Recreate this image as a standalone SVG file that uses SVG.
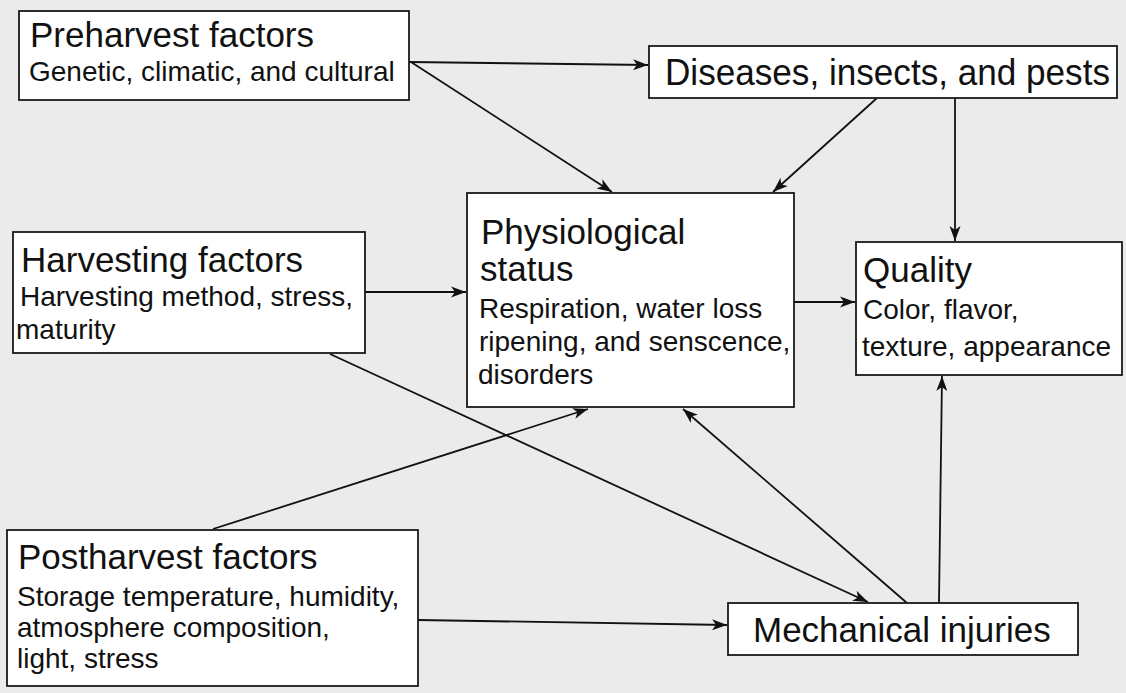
<svg xmlns="http://www.w3.org/2000/svg" width="1126" height="693" viewBox="0 0 1126 693">
  <defs>
    <marker id="arrow" markerWidth="16" markerHeight="12" refX="15" refY="6" orient="auto" markerUnits="userSpaceOnUse">
      <path d="M0,0.5 L15,6 L0,11.5 L4,6 z" fill="#111"/>
    </marker>
    <style>
      .box { fill: #ffffff; stroke: #1a1a1a; stroke-width: 1.8; }
      .title { font-family: "Liberation Sans", Arial, sans-serif; font-size: 35px; fill: #111; }
      .sub { font-family: "Liberation Sans", Arial, sans-serif; font-size: 28px; fill: #111; }
      .edge { fill: none; stroke: #111; stroke-width: 1.8; marker-end: url(#arrow); }
      .line { fill: none; stroke: #111; stroke-width: 1.8; }
    </style>
  </defs>
  <rect x="0" y="0" width="1126" height="693" fill="#ebebeb"/>

  <g id="connectors">
    <line class="edge" x1="409" y1="62" x2="648" y2="65"/>
    <line class="edge" x1="411" y1="62" x2="612" y2="192"/>
    <line class="edge" x1="877" y1="98" x2="773" y2="192"/>
    <line class="edge" x1="955" y1="98" x2="955" y2="241"/>
    <line class="edge" x1="365" y1="292" x2="466" y2="292"/>
    <line class="edge" x1="794" y1="302" x2="855" y2="302"/>
    <line class="edge" x1="213" y1="529" x2="588" y2="409"/>
    <line class="edge" x1="330" y1="354" x2="868" y2="602"/>
    <line class="edge" x1="907" y1="603" x2="683" y2="409"/>
    <line class="edge" x1="418" y1="620" x2="727" y2="625"/>
    <line class="edge" x1="939" y1="603" x2="942" y2="376"/>
  </g>

  <g id="preharvest">
    <rect class="box" x="19" y="11" width="390" height="89"/>
    <text class="title" x="30" y="47">Preharvest factors</text>
    <text class="sub" x="29" y="81">Genetic, climatic, and cultural</text>
  </g>

  <g id="diseases">
    <rect class="box" x="649" y="46" width="468" height="52"/>
    <text class="title" x="665" y="85" style="font-size:36px" textLength="445" lengthAdjust="spacingAndGlyphs">Diseases, insects, and pests</text>
  </g>

  <g id="harvesting">
    <rect class="box" x="13" y="232" width="352" height="121"/>
    <text class="title" x="21" y="272">Harvesting factors</text>
    <text class="sub" x="20" y="306">Harvesting method, stress,</text>
    <text class="sub" x="16" y="339">maturity</text>
  </g>

  <g id="physiological">
    <rect class="box" x="467" y="193" width="327" height="214"/>
    <text class="title" x="481" y="244">Physiological</text>
    <text class="title" x="480" y="281">status</text>
    <text class="sub" x="479" y="318">Respiration, water loss</text>
    <text class="sub" x="479" y="351">ripening, and senscence,</text>
    <text class="sub" x="478" y="384">disorders</text>
  </g>

  <g id="quality">
    <rect class="box" x="856" y="242" width="266" height="133"/>
    <text class="title" x="863" y="282">Quality</text>
    <text class="sub" x="863" y="319">Color, flavor,</text>
    <text class="sub" x="862" y="356">texture, appearance</text>
  </g>

  <g id="postharvest">
    <rect class="box" x="7" y="530" width="411" height="156"/>
    <text class="title" x="18" y="569">Postharvest factors</text>
    <text class="sub" x="17" y="606">Storage temperature, humidity,</text>
    <text class="sub" x="17" y="637">atmosphere composition,</text>
    <text class="sub" x="17" y="668">light, stress</text>
  </g>

  <g id="mechanical">
    <rect class="box" x="728" y="603" width="350" height="52"/>
    <text class="title" x="753" y="642">Mechanical injuries</text>
  </g>
</svg>
